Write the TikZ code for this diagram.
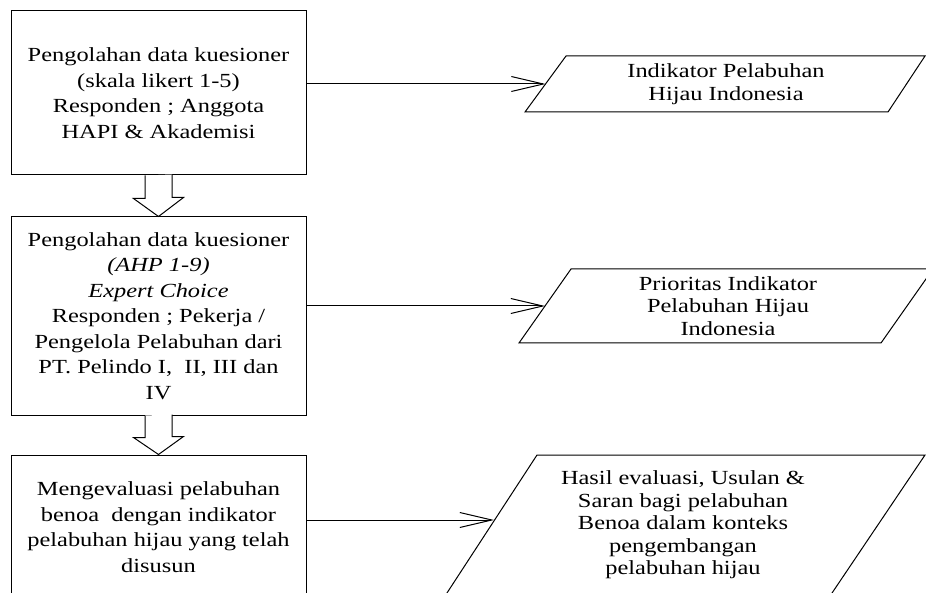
\documentclass[tikz,border=0pt]{standalone}
\usepackage{fontspec}
\setmainfont{Liberation Serif}[FakeStretch=1.22]
\usetikzlibrary{arrows.meta}
\tikzset{
  proc/.style ={draw, line width=1pt, minimum width=295pt, align=center, inner sep=0pt,
                font=\fontsize{20}{25.5}\selectfont},
  outp/.style ={align=center, inner sep=0pt, font=\fontsize{20}{22.5}\selectfont},
  pgram/.style={line width=1pt},
  flow/.style ={line width=1pt, -{Straight Barb[length=32pt,width=15pt]}},
  blok/.style ={draw, line width=1pt, fill=white},
}

\begin{document}
\begin{tikzpicture}[x=1pt,y=-1pt]
  \useasboundingbox (0,0) rectangle (926,593);
  \clip (0,0) rectangle (926,593);

  % left column
  \node[proc, minimum height=164pt] (olah1) at (158.5,93)
    {Pengolahan data kuesioner\\(skala likert 1-5)\\Responden ; Anggota\\HAPI \& Akademisi};
  \node[proc, minimum height=198pt] (olah2) at (158.5,316)
    {Pengolahan data kuesioner\\\textit{(AHP 1-9)}\\\textit{Expert Choice}\\Responden ; Pekerja /\\
     Pengelola Pelabuhan dari\\PT. Pelindo I,\ \ II, III dan\\IV};
  \node[proc, minimum height=144pt] (olah3) at (158.5,527)
    {Mengevaluasi pelabuhan\\benoa\ \ dengan indikator\\pelabuhan hijau yang telah\\disusun};

  % block arrows
  \draw[blok] (olah1.south) ++(-13.5,0) |- ++(-11.5,23) -- (olah2.north) -- ++(25,-19) -| ++(-11.5,-23);
  \draw[blok] (olah2.south) ++(-13.5,0) |- ++(-11.5,22) -- (olah3.north) -- ++(25,-18) -| ++(-11.5,-22);

  % right column
  \draw[pgram] (566,56) -- (925,56) -- (888,112) -- (525,112) -- cycle;
  \node[outp] (indik) at (726,84) {Indikator Pelabuhan\\Hijau Indonesia};
  \coordinate (indikin) at (545.5,84);

  \draw[pgram] (571,269) -- (933,269) -- (881,343) -- (519,343) -- cycle;
  \node[outp] (prior) at (728,306) {Prioritas Indikator\\Pelabuhan Hijau\\Indonesia};
  \coordinate (priorin) at (545,306);

  \draw[pgram] (537,455) -- (925,455) -- (830,596) -- (445,596) -- cycle;
  \node[outp] (hasil) at (683,525)
    {Hasil evaluasi, Usulan \&\\Saran bagi pelabuhan\\Benoa dalam konteks\\pengembangan\\pelabuhan hijau};
  \coordinate (hasilin) at (494,520);

  % connectors
  \draw[flow] (olah1.east |- indikin) -- (indikin);
  \draw[flow] (olah2.east |- priorin) -- (priorin);
  \draw[flow] (olah3.east |- hasilin) -- (hasilin);
\end{tikzpicture}
\end{document}
